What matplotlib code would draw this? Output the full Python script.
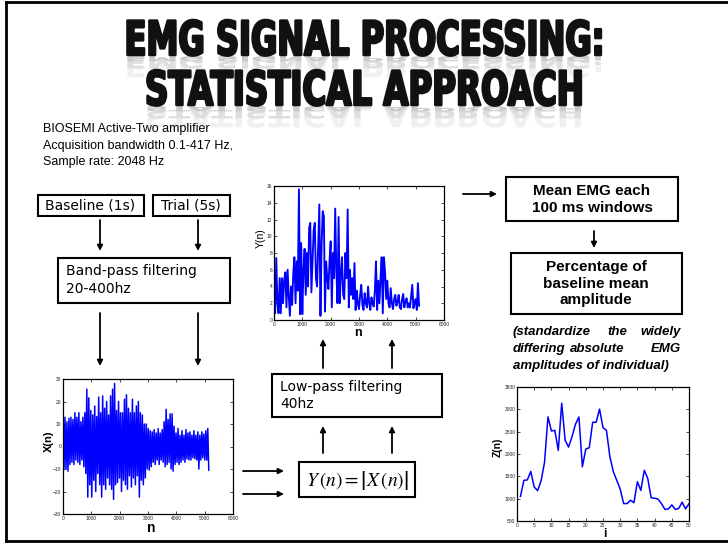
import matplotlib
matplotlib.use("Agg")
import matplotlib.pyplot as plt
import matplotlib.patheffects as pe
from matplotlib.transforms import Affine2D
from matplotlib.patches import Rectangle
import numpy as np

W, H = 728, 544

title_lines = ["EMG SIGNAL PROCESSING:", "STATISTICAL APPROACH"]
info_lines = ["BIOSEMI Active-Two amplifier",
              "Acquisition bandwidth 0.1-417 Hz,",
              "Sample rate: 2048 Hz"]

# band-pass filtered signal X(n): upper / lower peaks every 70 samples
x_step = 70
x_upper = [10, 13, 11, 12.5, 13, 12, 15, 13, 15, 11,
           13, 15, 25.5, 21.6, 16, 14, 18, 13.3, 22, 15,
           22.5, 17, 20, 14, 22.5, 25.5, 28, 16, 20, 15,
           15, 21, 23, 17, 15, 21, 15, 18, 20, 15,
           14, 10, 10, 8, 7, 6.5, 7.5, 6, 8, 6,
           7.5, 11, 16.5, 12, 14.5, 14.5, 9, 6, 8, 5,
           7, 5, 7.5, 6, 6.5, 5, 7, 5, 6.5, 5,
           6.5, 5.5, 7, 8]
x_lower = [-9.7, -10, -11, -8, -7, -8, -6, -7, -8, -6,
           -9, -12, -22.5, -17, -22.5, -15, -20, -12, -17, -22.5,
           -17, -19, -14, -17, -19, -23.5, -17, -16, -14, -20,
           -15, -17, -19, -13, -18, -14, -17, -13, -22.5, -15,
           -17, -14, -10, -10.5, -9, -7, -8, -6, -8, -6,
           -7, -9, -8, -7, -10, -11, -8, -7, -8, -7,
           -6, -7, -5.5, -6, -6, -5, -5.5, -6, -10, -6,
           -5, -6, -6, -10.5]

# low-pass filtered rectified signal Y(n), one value every 40 samples
y_step = 40
y_vals = [4.5, 0.8, 7.4, 2.0, 0.8, 5.0, 0.8, 5.0, 2.0, 4.8,
          5.7, 1.5, 6.0, 3.0, 0.5, 4.0, 1.8, 5.5, 7.5, 2.0,
          7.0, 3.5, 15.6, 0.7, 9.2, 0.7, 6.0, 8.5, 3.0, 8.0,
          4.0, 11.0, 11.6, 3.3, 7.0, 10.7, 11.6, 5.0, 4.0, 9.0,
          13.8, 0.5, 9.0, 13.0, 12.4, 1.0, 7.0, 5.0, 3.7, 7.0,
          9.4, 1.5, 8.0, 5.0, 13.3, 6.0, 2.0, 12.3, 2.0, 5.5,
          7.5, 3.0, 2.5, 8.0, 5.0, 13.2, 1.5, 6.0, 3.0, 5.0,
          2.5, 6.8, 1.2, 3.5, 2.0, 1.3, 3.0, 4.2, 1.8, 1.2,
          3.2, 2.0, 1.5, 4.0, 2.0, 1.2, 2.7, 2.0, 1.6, 3.5,
          7.0, 1.2, 4.7, 2.0, 5.0, 7.5, 0.8, 7.5, 5.7, 2.5,
          4.7, 2.0, 1.5, 3.8, 2.0, 1.3, 2.5, 3.0, 1.7, 2.2,
          3.0, 1.5, 1.3, 2.5, 3.1, 1.5, 2.2, 2.6, 1.5, 2.0,
          1.5, 2.8, 4.2, 1.4, 2.0, 2.5, 1.2, 4.4, 1.7]

# mean EMG in 100 ms windows, Z(i)
z_i = list(range(1, 51))
z_vals = [1050, 1410, 1420, 1610, 1260, 1180, 1400, 1810, 2830, 2515,
          2530, 2080, 3135, 2305, 2155, 2390, 2665, 2830, 1715, 2110,
          2140, 2710, 2710, 3005, 2590, 2530, 1940, 1605, 1410, 1215,
          890, 890, 965, 910, 1380, 1185, 1635, 1455, 1020, 1010,
          990, 890, 760, 770, 860, 760, 780, 920, 770, 890]


class Squeeze(pe.AbstractPathEffect):
    """Scale glyph outlines about a display point (condensed / mirrored text)."""

    def __init__(self, sx, cx, cy, sy=1.0, stroke=0.0):
        super().__init__()
        self.sx, self.sy, self.cx, self.cy, self.stroke = sx, sy, cx, cy, stroke

    def draw_path(self, renderer, gc, tpath, affine, rgbFace=None):
        t = Affine2D().translate(-self.cx, -self.cy).scale(self.sx, self.sy).translate(self.cx, self.cy)
        gc0 = renderer.new_gc()
        gc0.copy_properties(gc)
        gc0.set_linewidth(self.stroke)
        if rgbFace is not None:
            gc0.set_foreground(rgbFace)
        renderer.draw_path(gc0, tpath, affine + t, rgbFace)
        gc0.restore()


fig = plt.figure(figsize=(W / 100, H / 100), dpi=100)
ax0 = fig.add_axes([0, 0, 1, 1])
ax0.set_xlim(0, W)
ax0.set_ylim(H, 0)
ax0.axis("off")

# slide frame
ax0.plot([6, W], [2, 2], color="black", lw=2)
ax0.plot([6, 6], [2, 541], color="black", lw=2)
ax0.plot([6, W], [541, 541], color="black", lw=2)

# title, condensed heavy type with a faint reflection
renderer = fig.canvas.get_renderer()
cx = 365
for line, base, target in zip(title_lines, [55, 105], [481, 440]):
    t = ax0.text(cx, base, line, ha="center", va="baseline", fontsize=34,
                 fontweight="heavy", family="DejaVu Sans", color="#111111", zorder=5)
    wpx = t.get_window_extent(renderer=renderer).width
    sx = target / wpx
    t.set_path_effects([Squeeze(sx, cx, H - base, stroke=1.8)])
    for col, sy in [("#f0f0f0", -0.6), ("#dedede", -0.35), ("#cacaca", -0.15)]:
        r = ax0.text(cx, base, line, ha="center", va="baseline", fontsize=34,
                     fontweight="heavy", family="DejaVu Sans", color=col, zorder=2)
        r.set_path_effects([Squeeze(sx, cx, H - base - 1, sy=sy)])

for k, s in enumerate(info_lines):
    ax0.text(43, 129 + 16.5 * k, s, ha="left", va="center", fontsize=9,
             family="Liberation Sans")

# boxes
boxes = [(38, 195, 144, 216), (153, 195, 230, 216), (58, 258, 230, 303),
         (272, 374, 442, 417), (299, 462, 415, 497), (506, 177, 678, 221),
         (511, 253, 682, 314)]
for l, t, r, b in boxes:
    ax0.add_patch(Rectangle((l, t), r - l, b - t, fill=False, ec="black", lw=1.5))

ax0.text(45, 205.5, "Baseline (1s)", ha="left", va="center", fontsize=10)
ax0.text(161, 205.5, "Trial (5s)", ha="left", va="center", fontsize=10)
ax0.text(66, 271, "Band-pass filtering", ha="left", va="center", fontsize=10)
ax0.text(66, 289, "20-400hz", ha="left", va="center", fontsize=10)
ax0.text(280, 387, "Low-pass filtering", ha="left", va="center", fontsize=10)
ax0.text(280, 404, "40hz", ha="left", va="center", fontsize=10)
ax0.text(357, 480, r"$Y\,(n) = \left|X\,(n)\right|$", ha="center", va="center",
         fontsize=14, math_fontfamily="stix")

for k, s in enumerate(["Mean EMG each", "100 ms windows"]):
    ax0.text(592, 191 + 16.5 * k, s, ha="center", va="center", fontsize=11,
             fontweight="bold", family="Liberation Sans")
for k, s in enumerate(["Percentage of", "baseline mean", "amplitude"]):
    ax0.text(596, 267 + 16.5 * k, s, ha="center", va="center", fontsize=11,
             fontweight="bold", family="Liberation Sans")

note_kw = dict(va="center", fontsize=9.5, fontweight="bold", style="italic",
               family="Liberation Sans")
ax0.text(513, 332, "(standardize", ha="left", **note_kw)
ax0.text(617, 332, "the", ha="center", **note_kw)
ax0.text(681, 332, "widely", ha="right", **note_kw)
ax0.text(513, 349, "differing", ha="left", **note_kw)
ax0.text(597, 349, "absolute", ha="center", **note_kw)
ax0.text(681, 349, "EMG", ha="right", **note_kw)
ax0.text(513, 366, "amplitudes of individual)", ha="left", **note_kw)

# arrows
arrows = [((100, 220), (100, 251)), ((198, 220), (198, 251)),
          ((100, 313), (100, 366)), ((198, 313), (198, 366)),
          ((323, 368), (323, 339)), ((392, 368), (392, 339)),
          ((323, 453), (323, 426)), ((392, 453), (392, 426)),
          ((243, 471), (284, 471)), ((243, 494), (284, 494)),
          ((463, 194), (497, 194)), ((594, 231), (594, 248))]
for a, b in arrows:
    ax0.annotate("", xy=b, xytext=a,
                 arrowprops=dict(arrowstyle="-|>", color="black", lw=1.3,
                                 mutation_scale=8, shrinkA=0, shrinkB=0))


def px_axes(l, t, r, b):
    return fig.add_axes([l / W, 1 - b / H, (r - l) / W, (b - t) / H])


def style(ax):
    ax.tick_params(direction="in", length=2, width=0.5, labelsize=3.5, pad=1.2,
                   top=True, right=True, labelcolor="#222222")
    for lab in ax.get_xticklabels() + ax.get_yticklabels():
        lab.set_family("Liberation Sans")
    for s in ax.spines.values():
        s.set_linewidth(0.9)


# X(n)
axx = px_axes(63, 379, 233, 514)
xs = []
for u, lo in zip(x_upper, x_lower):
    xs += [u, lo]
axx.plot(np.arange(len(xs)) * x_step / 2, xs, color="blue", lw=1.1)
axx.set_xlim(0, 6000)
axx.set_ylim(-30, 30)
axx.set_xticks(range(0, 6001, 1000))
axx.set_yticks(range(-30, 31, 10))
style(axx)
axx.set_ylabel("X(n)", fontsize=8, fontweight="bold", family="Liberation Sans", va="center")
axx.yaxis.set_label_coords(-0.085, 0.54)
axx.set_xlabel("n", fontsize=10, fontweight="bold", family="Liberation Sans", va="center")
axx.xaxis.set_label_coords(0.518, -0.1)

# Y(n)
axy = px_axes(274, 186, 444, 320)
axy.plot(np.arange(len(y_vals)) * y_step, y_vals, color="blue", lw=1.35)
axy.set_xlim(0, 6000)
axy.set_ylim(0, 16)
axy.set_xticks(range(0, 6001, 1000))
axy.set_yticks(range(0, 17, 2))
style(axy)
axy.set_ylabel("Y(n)", fontsize=7.5, family="Liberation Sans", va="center")
axy.yaxis.set_label_coords(-0.075, 0.61)
axy.set_xlabel("n", fontsize=9, fontweight="bold", family="Liberation Sans", va="center")
axy.xaxis.set_label_coords(0.494, -0.095)

# Z(i)
axz = px_axes(517, 387, 689, 521)
axz.plot(z_i, z_vals, color="blue", lw=1.1)
axz.set_xlim(0, 50)
axz.set_ylim(500, 3500)
axz.set_xticks(range(0, 51, 5))
axz.set_yticks(range(500, 3501, 500))
style(axz)
axz.set_ylabel("Z(n)", fontsize=7.5, fontweight="bold", family="Liberation Sans", va="center")
axz.yaxis.set_label_coords(-0.11, 0.55)
axz.set_xlabel("i", fontsize=8.5, fontweight="bold", family="Liberation Sans", va="center")
axz.xaxis.set_label_coords(0.51, -0.095)

fig.savefig("out.png", dpi=100)
